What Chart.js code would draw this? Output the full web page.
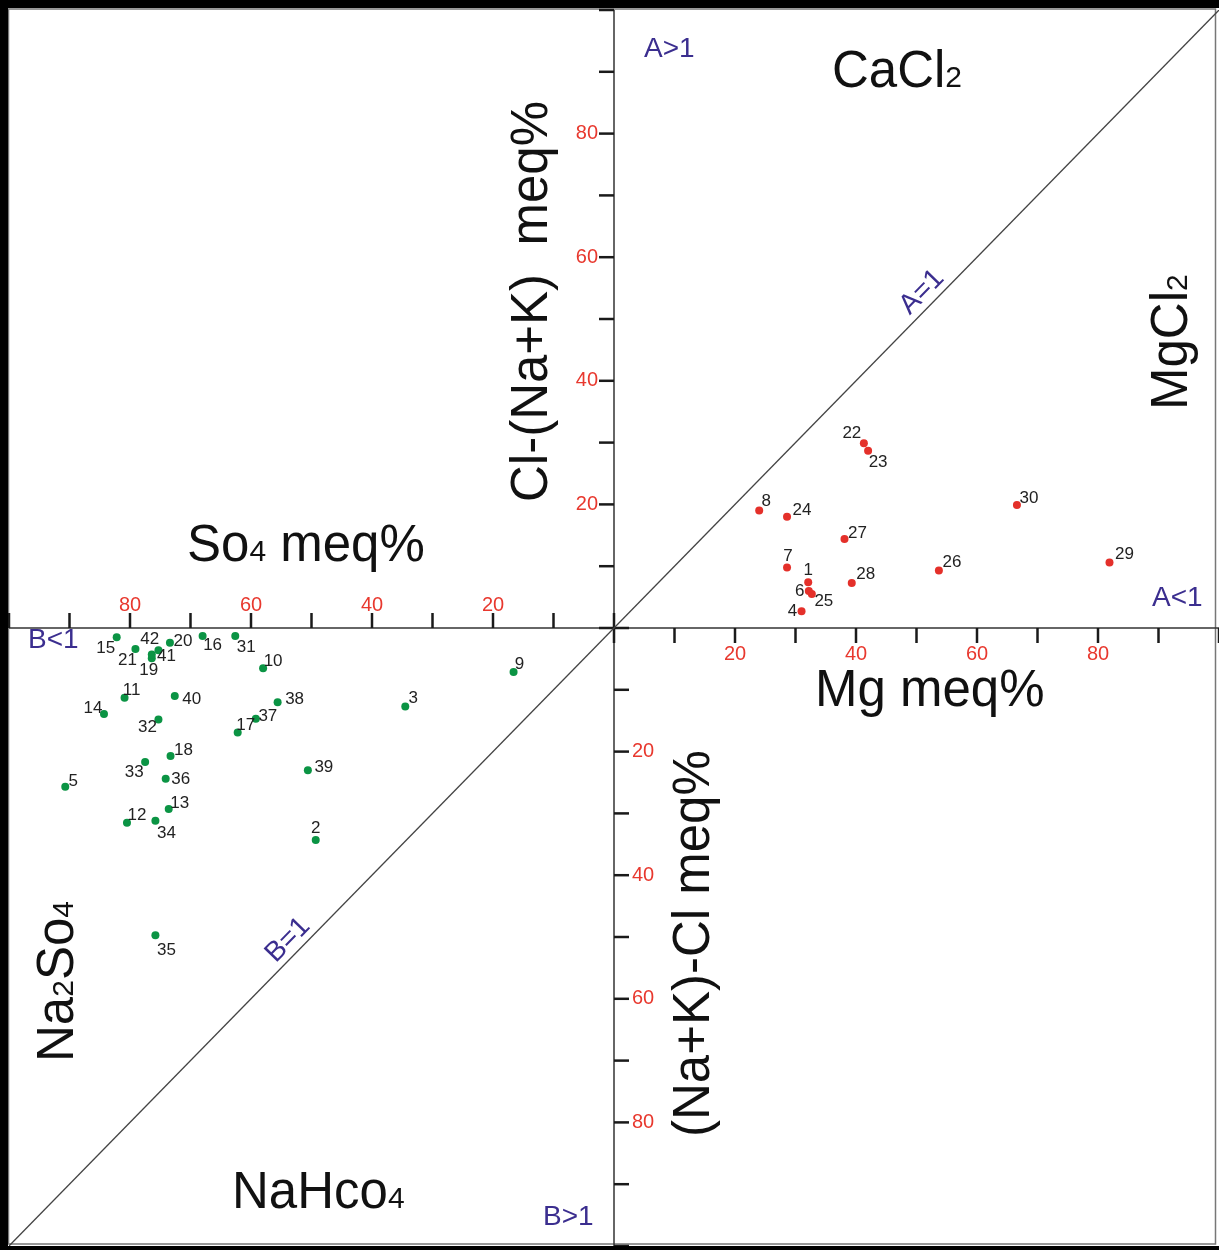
<!DOCTYPE html>
<html>
<head>
<meta charset="utf-8">
<script src="https://cdn.jsdelivr.net/npm/chart.js@4.4.1/dist/chart.umd.min.js"></script>
<style>
  html, body { margin: 0; padding: 0; background: #fff; overflow: hidden; }
  #sulin { display: block; }
</style>
</head>
<body>
<canvas id="sulin" width="1219" height="1250"></canvas>
<script>
/* ── Axis ticks (meq%, same on all four half-axes) ── */
const scaleTicks   = [10, 20, 30, 40, 50, 60, 70, 80, 90, 100];
const labeledTicks = [20, 40, 60, 80];

/* ── Upper-right quadrant: Mg meq% vs Cl-(Na+K) meq% ── */
const mgSamples = ['1', '4', '6', '7', '8', '22', '23', '24', '25', '26', '27', '28', '29', '30'];
const mgPct     = [32.1, 31.0, 32.2, 28.6, 24.0, 41.3, 42.0, 28.6, 32.7, 53.7, 38.1, 39.3, 81.9, 66.6];
const clExcess  = [7.4, 2.7, 6.0, 9.8, 19.0, 29.9, 28.7, 18.0, 5.5, 9.3, 14.4, 7.3, 10.6, 19.9];

/* ── Lower-left quadrant: So4 meq% vs (Na+K)-Cl meq% ── */
const so4Samples = ['2', '3', '5', '9', '10', '11', '12', '13', '14', '15', '16', '17', '18', '19',
                    '20', '21', '31', '32', '33', '34', '35', '36', '37', '38', '39', '40', '41', '42'];
const so4Pct     = [49.3, 34.5, 90.7, 16.6, 58.0, 80.9, 80.5, 73.6, 84.3, 82.2, 68.0, 62.2, 73.3, 76.4,
                    73.4, 79.1, 62.6, 75.3, 77.5, 75.8, 75.8, 74.1, 59.2, 55.6, 50.6, 72.6, 75.3, 76.4];
const naExcess   = [34.3, 12.7, 25.7, 7.1, 6.5, 11.3, 31.5, 29.3, 13.9, 1.5, 1.3, 16.9, 20.7, 4.9,
                    2.4, 3.4, 1.3, 14.8, 21.7, 31.2, 49.7, 24.4, 14.7, 12.0, 23.0, 11.0, 3.6, 4.3];

/* ── Sample label placement (px offset of label centre from its dot) ── */
const redLabelOff = {
  '1': [0, -12], '4': [-9, 0], '6': [-9, 0], '7': [1, -11], '8': [7, -9], '22': [-12, -10],
  '23': [10, 12], '24': [15, -6], '25': [12, 7], '26': [13, -8], '27': [13, -6], '28': [14, -9],
  '29': [15, -8], '30': [12, -7],
};
const greenLabelOff = {
  '2': [0, -12], '3': [8, -8], '5': [8, -6], '9': [6, -8], '10': [10, -7], '11': [7, -8],
  '12': [10, -7], '13': [11, -6], '14': [-11, -6], '15': [-11, 11], '16': [10, 9], '17': [8, -7],
  '18': [13, -6], '19': [-3, 12], '20': [13, -2], '21': [-8, 11], '31': [11, 11], '32': [-11, 8],
  '33': [-11, 10], '34': [11, 12], '35': [11, 15], '36': [15, 1], '37': [12, -3], '38': [17, -3],
  '39': [16, -3], '40': [17, 3], '41': [8, 6], '42': [-2, -15],
};

/* ── Palette / fonts ── */
const C = {
  red:    '#e4302a',
  green:  '#0b9444',
  tick:   '#e8382e',
  purple: '#3b2e8f',
  ink:    '#111111',
  axis:   '#333333',
};
const FONT = '"Liberation Sans", Arial, sans-serif';

/* draw a run of [text, size] parts along one baseline */
function drawRich(ctx, parts, x, y, angle = 0, color = C.ink) {
  ctx.save();
  ctx.translate(x, y);
  ctx.rotate(angle);
  ctx.fillStyle = color;
  ctx.textAlign = 'left';
  ctx.textBaseline = 'alphabetic';
  let cx = 0;
  parts.forEach(([t, s]) => {
    ctx.font = `${s}px ${FONT}`;
    ctx.fillText(t, cx, 0);
    cx += ctx.measureText(t).width;
  });
  ctx.restore();
}

function seg(ctx, x1, y1, x2, y2) {
  ctx.beginPath(); ctx.moveTo(x1, y1); ctx.lineTo(x2, y2); ctx.stroke();
}

const sulinFrame = {
  id: 'sulinFrame',
  beforeDraw(chart) {
    const { ctx, width, height } = chart;
    ctx.save();
    ctx.fillStyle = '#fff';
    ctx.fillRect(0, 0, width, height);
    ctx.restore();
  },
  beforeDatasetsDraw(chart) {
    const { ctx, chartArea: a, scales: { x, y } } = chart;
    const x0 = x.getPixelForValue(0), y0 = y.getPixelForValue(0);
    const T = 15;
    ctx.save();

    // thin outer frame
    ctx.strokeStyle = '#777'; ctx.lineWidth = 1.5;
    ctx.strokeRect(a.left - 0.5, a.top - 1, a.right - a.left - 3, a.bottom - a.top - 1);

    // cross axes
    ctx.strokeStyle = C.axis; ctx.lineWidth = 1.5;
    seg(ctx, a.left, y0, a.right, y0);
    seg(ctx, x0, a.top, x0, a.bottom);

    // ticks
    ctx.strokeStyle = '#1a1a1a'; ctx.lineWidth = 2.5;
    scaleTicks.forEach(v => {
      const xr = x.getPixelForValue(v), xl = x.getPixelForValue(-v);
      const yu = y.getPixelForValue(v), yd = y.getPixelForValue(-v);
      seg(ctx, xr, y0, xr, y0 + T);   // Mg: below
      seg(ctx, xl, y0, xl, y0 - T);   // So4: above
      seg(ctx, x0, yu, x0 - T, yu);   // Cl-(Na+K): left
      seg(ctx, x0, yd, x0 + T, yd);   // (Na+K)-Cl: right
    });
    seg(ctx, x0 - T, y0, x0 + T, y0);
    seg(ctx, x0, y0 - T, x0, y0 + T);

    // tick labels
    ctx.fillStyle = C.tick;
    ctx.font = `20px ${FONT}`;
    labeledTicks.forEach(v => {
      const s = String(v);
      ctx.textAlign = 'center'; ctx.textBaseline = 'middle';
      ctx.fillText(s, x.getPixelForValue(v), y0 + 26);
      ctx.fillText(s, x.getPixelForValue(-v), y0 - 23);
      ctx.textAlign = 'right';
      ctx.fillText(s, x0 - 16, y.getPixelForValue(v));
      ctx.textAlign = 'left';
      ctx.fillText(s, x0 + 18, y.getPixelForValue(-v));
    });
    ctx.restore();
  },
  afterDatasetsDraw(chart) {
    const { ctx, scales: { x, y } } = chart;
    ctx.save();

    // sample numbers
    ctx.fillStyle = '#222';
    ctx.font = `17px ${FONT}`;
    ctx.textAlign = 'center'; ctx.textBaseline = 'middle';
    mgSamples.forEach((id, i) => {
      const [dx, dy] = redLabelOff[id] || [10, -8];
      ctx.fillText(id, x.getPixelForValue(mgPct[i]) + dx, y.getPixelForValue(clExcess[i]) + dy);
    });
    so4Samples.forEach((id, i) => {
      const [dx, dy] = greenLabelOff[id] || [10, -8];
      ctx.fillText(id, x.getPixelForValue(-so4Pct[i]) + dx, y.getPixelForValue(-naExcess[i]) + dy);
    });
    ctx.restore();

    // axis titles and field names
    const BIG = 51, SUB = 30, UP = -Math.PI / 2;
    drawRich(ctx, [['CaCl', BIG], ['2', SUB]], 832, 87);
    drawRich(ctx, [['MgCl', BIG], ['2', SUB]], 1187, 410, UP);
    drawRich(ctx, [['Cl-(Na+K)  meq%', BIG]], 547, 502, UP);
    drawRich(ctx, [['Mg meq%', BIG]], 815, 706);
    drawRich(ctx, [['So', BIG], ['4', SUB], [' meq%', BIG]], 187, 561);
    drawRich(ctx, [['(Na+K)-Cl meq%', BIG]], 709, 1137, UP);
    drawRich(ctx, [['Na', BIG], ['2', SUB], ['So', BIG], ['4', SUB]], 73, 1062, UP);
    drawRich(ctx, [['NaHco', BIG], ['4', SUB]], 232, 1208);

    // A / B ratio marks
    const P = 28;
    drawRich(ctx, [['A>1', P]], 644, 57, 0, C.purple);
    drawRich(ctx, [['A<1', P]], 1152, 606, 0, C.purple);
    drawRich(ctx, [['B<1', P]], 28, 648, 0, C.purple);
    drawRich(ctx, [['B>1', P]], 543, 1225, 0, C.purple);

    const ang = Math.atan2(y.getPixelForValue(100) - y.getPixelForValue(0),
                           x.getPixelForValue(100) - x.getPixelForValue(0));
    ctx.save();
    ctx.fillStyle = C.purple;
    ctx.font = `${P}px ${FONT}`;
    ctx.textAlign = 'center'; ctx.textBaseline = 'middle';
    [['A=1', 922, 292], ['B=1', 288, 940]].forEach(([t, px, py]) => {
      ctx.save();
      ctx.translate(px, py); ctx.rotate(ang);
      ctx.fillText(t, 0, 0);
      ctx.restore();
    });
    ctx.restore();
  },
  afterDraw(chart) {
    const { ctx, width, height } = chart;
    ctx.save();
    ctx.fillStyle = '#000';
    ctx.fillRect(0, 0, width, 8);
    ctx.fillRect(0, 0, 8, height);
    ctx.fillRect(0, height - 4, width, 4);
    ctx.restore();
  },
};

new Chart(document.getElementById('sulin'), {
  type: 'scatter',
  data: {
    datasets: [
      {
        type: 'line',
        label: 'A=1 / B=1',
        data: [{ x: -100, y: -100 }, { x: 100, y: 100 }],
        borderColor: '#444', borderWidth: 1.3,
        pointRadius: 0, fill: false,
      },
      {
        label: 'Mg / Cl-(Na+K)',
        data: mgPct.map((v, i) => ({ x: v, y: clExcess[i] })),
        backgroundColor: C.red, borderWidth: 0, pointRadius: 4,
      },
      {
        label: 'So4 / (Na+K)-Cl',
        data: so4Pct.map((v, i) => ({ x: -v, y: -naExcess[i] })),
        backgroundColor: C.green, borderWidth: 0, pointRadius: 4,
      },
    ],
  },
  options: {
    responsive: false,
    animation: false, events: [],
    layout: { autoPadding: false, padding: { left: 9, right: 0, top: 10, bottom: 4 } },
    plugins: { legend: { display: false }, tooltip: { enabled: false } },
    scales: {
      x: { type: 'linear', min: -100, max: 100, display: false },
      y: { type: 'linear', min: -100, max: 100, display: false },
    },
  },
  plugins: [sulinFrame],
});
</script>
</body>
</html>
